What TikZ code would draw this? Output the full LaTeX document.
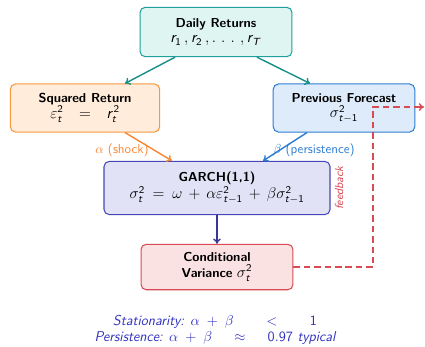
\documentclass[tikz,border=0pt]{standalone}
\usepackage{amsmath,amssymb}
\usetikzlibrary{arrows.meta,calc,positioning}
% sans digits and italic sans latin letters in math
\DeclareSymbolFont{sfup}{OT1}{cmss}{m}{n}
\DeclareSymbolFont{sfit}{OT1}{cmss}{m}{sl}
\DeclareMathSymbol{0}{\mathalpha}{sfup}{`0}
\DeclareMathSymbol{1}{\mathalpha}{sfup}{`1}
\DeclareMathSymbol{2}{\mathalpha}{sfup}{`2}
\DeclareMathSymbol{7}{\mathalpha}{sfup}{`7}
\DeclareMathSymbol{9}{\mathalpha}{sfup}{`9}
\DeclareMathSymbol{r}{\mathalpha}{sfit}{`r}
\DeclareMathSymbol{t}{\mathalpha}{sfit}{`t}
\DeclareMathSymbol{T}{\mathalpha}{sfit}{`T}
\newcommand{\bigmath}[1]{{\large\medmuskip=7mu\thickmuskip=9mu $#1$}}
\definecolor{tealB}{RGB}{30,160,155}
\definecolor{tealF}{RGB}{222,245,241}
\definecolor{orgB}{RGB}{250,150,60}
\definecolor{orgF}{RGB}{255,236,218}
\definecolor{bluB}{RGB}{45,125,210}
\definecolor{bluF}{RGB}{221,235,250}
\definecolor{purB}{RGB}{70,70,185}
\definecolor{purF}{RGB}{226,226,246}
\definecolor{redB}{RGB}{215,75,85}
\definecolor{redF}{RGB}{250,226,226}
\definecolor{txtB}{RGB}{50,50,190}

\begin{document}
\begin{tikzpicture}[x=0.77pt,y=-0.77pt,font=\sffamily,
every node/.style={rounded corners=4pt,align=center,line width=0.8pt,inner sep=2pt},
link/.style={line width=1.1pt,-{To[length=4pt,width=6pt]}}]
\useasboundingbox (0,0) rectangle (425,346);
\node[draw=tealB,fill=tealF,minimum width=117pt,minimum height=38pt] (R) at (216,32) {\textbf{Daily Returns}\\\bigmath{r_1\,, r_2\,, .\,\,.\,\,.\,\,, r_T}};
\node[draw=orgB,fill=orgF,minimum width=115pt,minimum height=37pt] (E) at (85,108) {\textbf{Squared Return}\\\bigmath{\varepsilon_t^2 \;=\; r_t^2}};
\node[draw=bluB,fill=bluF,minimum width=109pt,minimum height=37pt] (F) at (344,108) {\textbf{Previous Forecast}\\\bigmath{\sigma_{t-1}^2}};
\node[draw=purB,fill=purF,minimum width=174pt,minimum height=41pt] (G) at (217,188) {\textbf{GARCH(1,1)}\\\bigmath{\sigma_t^2 = \omega + \alpha\varepsilon_{t-1}^2 + \beta\sigma_{t-1}^2}};
\node[draw=redB,fill=redF,minimum width=117pt,minimum height=35pt] (V) at (217,267) {\textbf{Conditional}\\\textbf{Variance} \bigmath{\sigma_t^2}};
\coordinate (C1) at (373,267);
\coordinate (C2) at (424,107);
% arrows
\draw[link,tealB!90!black] (R.south-|175,0)--(E.north-|125,0);
\draw[link,tealB!90!black] (R.south-|257,0)--(F.north-|310,0);
\draw[link,orgB!90!red] (E.south-|125,0)--(G.north-|172,0);
\draw[link,bluB] (F.south-|307,0)--(G.north-|263,0);
\draw[link,purB!80!black] (G)--(V);
\draw[line width=1.1pt,redB,dashed,dash pattern=on 5pt off 3pt,-{To[length=4pt,width=6pt]}] (V.east)--(C1)|-(C2);
% labels
\node[orgB!90!red] (la) at (122,150) {$\alpha$ (shock)};
\node[bluB] (lb) at (314,150) {$\beta$ (persistence)};
\node[redB,rotate=90,font=\sffamily\itshape\small] (fb) at (339,188) {feedback};
\node[txtB,font=\fontsize{11}{13}\sffamily\itshape] (S) at (215,322) {Stationarity: $\alpha\;+\;\beta\qquad<\qquad1$};
\node[txtB,font=\fontsize{11}{13}\sffamily\itshape] (P) at (215,338) {Persistence: $\alpha\;+\;\beta\quad\;\approx\quad\;0.97$ typical};
\end{tikzpicture}
\end{document}
